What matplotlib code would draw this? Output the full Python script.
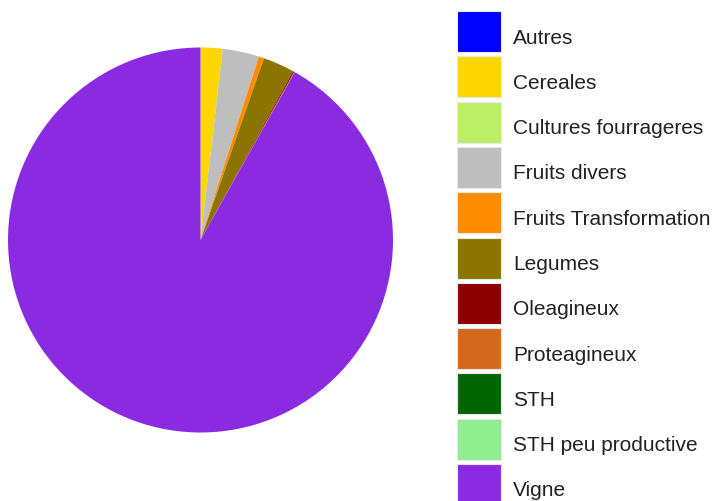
import matplotlib.pyplot as plt
from matplotlib.patches import Rectangle

# 各类作物面积占比（%）
LABELS = ['Autres', 'Cereales', 'Cultures fourrageres', 'Fruits divers',
          'Fruits Transformation', 'Legumes', 'Oleagineux', 'Proteagineux',
          'STH', 'STH peu productive', 'Vigne']
VALUES = [0.0, 1.85, 0.0, 3.05, 0.45, 2.65, 0.1, 0.05, 0.0, 0.0, 91.85]
COLORS = ['#0000FF', '#FFD700', '#BCEE68', '#BEBEBE', '#FF8C00', '#8B7500',
          '#8B0000', '#D2691E', '#006400', '#90EE90', '#8A2BE2']

W, H = 719, 502
fig = plt.figure(figsize=(W / 100, H / 100), dpi=100)
plt.rcParams['font.family'] = ['Liberation Sans', 'DejaVu Sans']

# 饼图：圆心约 (200.5, 241)，半径约 192.5 像素
cx, cy, r = 200.5, 241, 192.5
ax = fig.add_axes([(cx - r) / W, (H - cy - r) / H, 2 * r / W, 2 * r / H])
ax.pie(VALUES, colors=COLORS, startangle=90, counterclock=False,
       wedgeprops=dict(linewidth=0))
ax.set_xlim(-1, 1)
ax.set_ylim(-1, 1)
ax.set_aspect('equal')
ax.axis('off')

# 图例：用像素坐标手工画色块和文字
lax = fig.add_axes([0, 0, 1, 1])
lax.set_xlim(0, W)
lax.set_ylim(H, 0)
lax.axis('off')
top0, step = 12, 45.3
for i, (name, color) in enumerate(zip(LABELS, COLORS)):
    top = top0 + i * step
    lax.add_patch(Rectangle((457, top), 44, 41, facecolor=color,
                            edgecolor='#e8e8e8', linewidth=0.8))
    lax.text(513, top + 31.5, name, fontsize=15, color='#222222',
             va='baseline', ha='left')

fig.savefig('out.png', dpi=100)
